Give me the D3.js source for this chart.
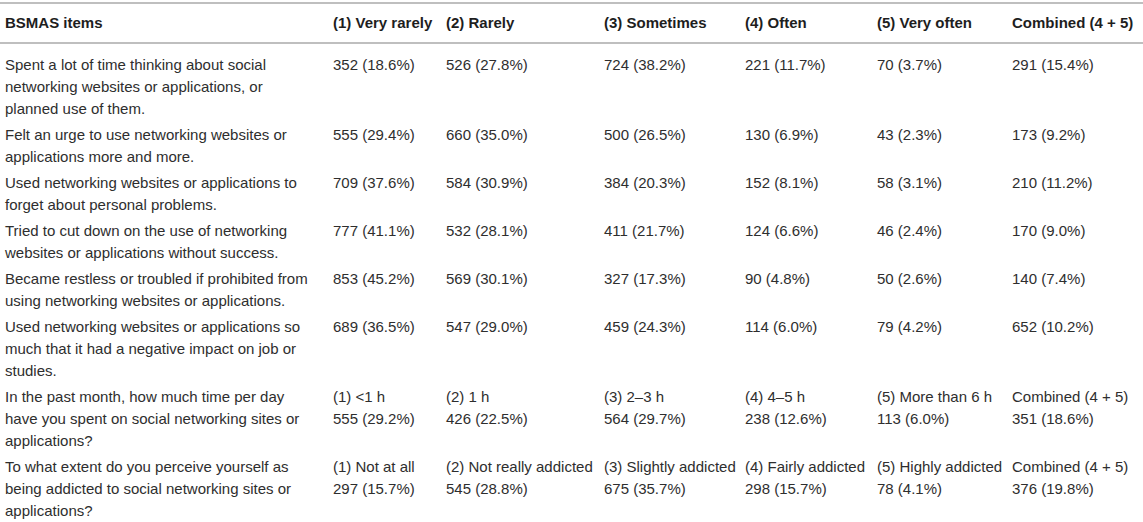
<!DOCTYPE html>
<html>
<head>
<meta charset="utf-8">
<script src="https://cdn.jsdelivr.net/npm/d3@7"></script>
<style>
  body { margin: 0; background: #fff; }
  text { font-family: "Liberation Sans", Arial, Helvetica, sans-serif; font-size: 15px; fill: #2e2e2e; }
  .head { font-weight: bold; fill: #1e1e1e; }
</style>
</head>
<body>
<div id="chart"></div>
<script>
// BSMAS item table

const headers = ['BSMAS items', '(1) Very rarely', '(2) Rarely', '(3) Sometimes', '(4) Often', '(5) Very often', 'Combined (4 + 5)'];

// item wording, one entry per printed line
const items = [
  ['Spent a lot of time thinking about social', 'networking websites or applications, or', 'planned use of them.'],
  ['Felt an urge to use networking websites or', 'applications more and more.'],
  ['Used networking websites or applications to', 'forget about personal problems.'],
  ['Tried to cut down on the use of networking', 'websites or applications without success.'],
  ['Became restless or troubled if prohibited from', 'using networking websites or applications.'],
  ['Used networking websites or applications so', 'much that it had a negative impact on job or', 'studies.'],
  ['In the past month, how much time per day', 'have you spent on social networking sites or', 'applications?'],
  ['To what extent do you perceive yourself as', 'being addicted to social networking sites or', 'applications?']
];

// answer labels printed above the counts (only the last two items)
const optionLabels = [
  null, null, null, null, null, null,
  ['(1) <1 h', '(2) 1 h', '(3) 2\u20133 h', '(4) 4\u20135 h', '(5) More than 6 h', 'Combined (4 + 5)'],
  ['(1) Not at all', '(2) Not really addicted', '(3) Slightly addicted', '(4) Fairly addicted', '(5) Highly addicted', 'Combined (4 + 5)']
];

const counts = [
  [352, 526, 724, 221, 70, 291],
  [555, 660, 500, 130, 43, 173],
  [709, 584, 384, 152, 58, 210],
  [777, 532, 411, 124, 46, 170],
  [853, 569, 327, 90, 50, 140],
  [689, 547, 459, 114, 79, 652],
  [555, 426, 564, 238, 113, 351],
  [297, 545, 675, 298, 78, 376]
];

const percents = [
  [18.6, 27.8, 38.2, 11.7, 3.7, 15.4],
  [29.4, 35.0, 26.5, 6.9, 2.3, 9.2],
  [37.6, 30.9, 20.3, 8.1, 3.1, 11.2],
  [41.1, 28.1, 21.7, 6.6, 2.4, 9.0],
  [45.2, 30.1, 17.3, 4.8, 2.6, 7.4],
  [36.5, 29.0, 24.3, 6.0, 4.2, 10.2],
  [29.2, 22.5, 29.7, 12.6, 6.0, 18.6],
  [15.7, 28.8, 35.7, 15.7, 4.1, 19.8]
];

const width = 1143;
const height = 522;
const lineH = 22;
const rowGap = 26;
const firstRowY = 65;

const svg = d3.select('#chart')
  .append('svg')
  .attr('width', width)
  .attr('height', height);

// column left edges
const x = d3.scaleOrdinal()
  .domain(d3.range(headers.length))
  .range([5, 333, 446, 604, 745, 877, 1012]);

// each row takes as many lines as its longest cell
const rowLines = items.map((it, i) => Math.max(it.length, optionLabels[i] ? 2 : 1));
const rowStart = [];
let acc = 0;
rowLines.forEach((n, i) => {
  rowStart.push(acc);
  acc += (n - 1) * lineH + rowGap;
});

const y = d3.scaleLinear().domain([0, 1]).range([firstRowY, firstRowY + 1]);

// rules
svg.append('line')
  .attr('x1', 0).attr('x2', width)
  .attr('y1', 3).attr('y2', 3)
  .attr('stroke', '#aaa').attr('stroke-width', 1.6);
svg.append('line')
  .attr('x1', 0).attr('x2', width)
  .attr('y1', 43).attr('y2', 43)
  .attr('stroke', '#aaa').attr('stroke-width', 1.6);

// header
svg.append('g')
  .selectAll('text')
  .data(headers)
  .enter().append('text')
  .attr('class', 'head')
  .attr('x', (d, i) => x(i))
  .attr('y', 23)
  .attr('dy', '0.35em')
  .text(d => d);

const rows = svg.append('g')
  .selectAll('g')
  .data(items)
  .enter().append('g')
  .attr('transform', (d, i) => `translate(0,${y(rowStart[i])})`);

// item wording
rows.selectAll('text.item')
  .data(d => d)
  .enter().append('text')
  .attr('class', 'item')
  .attr('x', x(0))
  .attr('y', (d, j) => j * lineH)
  .attr('dy', '0.35em')
  .text(d => d);

// value cells
rows.each(function(d, i) {
  const g = d3.select(this);
  const labels = optionLabels[i];
  const off = labels ? lineH : 0;

  if (labels) {
    g.selectAll('text.opt')
      .data(labels)
      .enter().append('text')
      .attr('class', 'opt')
      .attr('x', (l, k) => x(k + 1))
      .attr('y', 0)
      .attr('dy', '0.35em')
      .text(l => l);
  }

  g.selectAll('text.val')
    .data(counts[i])
    .enter().append('text')
    .attr('class', 'val')
    .attr('x', (c, k) => x(k + 1))
    .attr('y', off)
    .attr('dy', '0.35em')
    .text((c, k) => `${c} (${percents[i][k].toFixed(1)}%)`);
});
</script>
</body>
</html>
